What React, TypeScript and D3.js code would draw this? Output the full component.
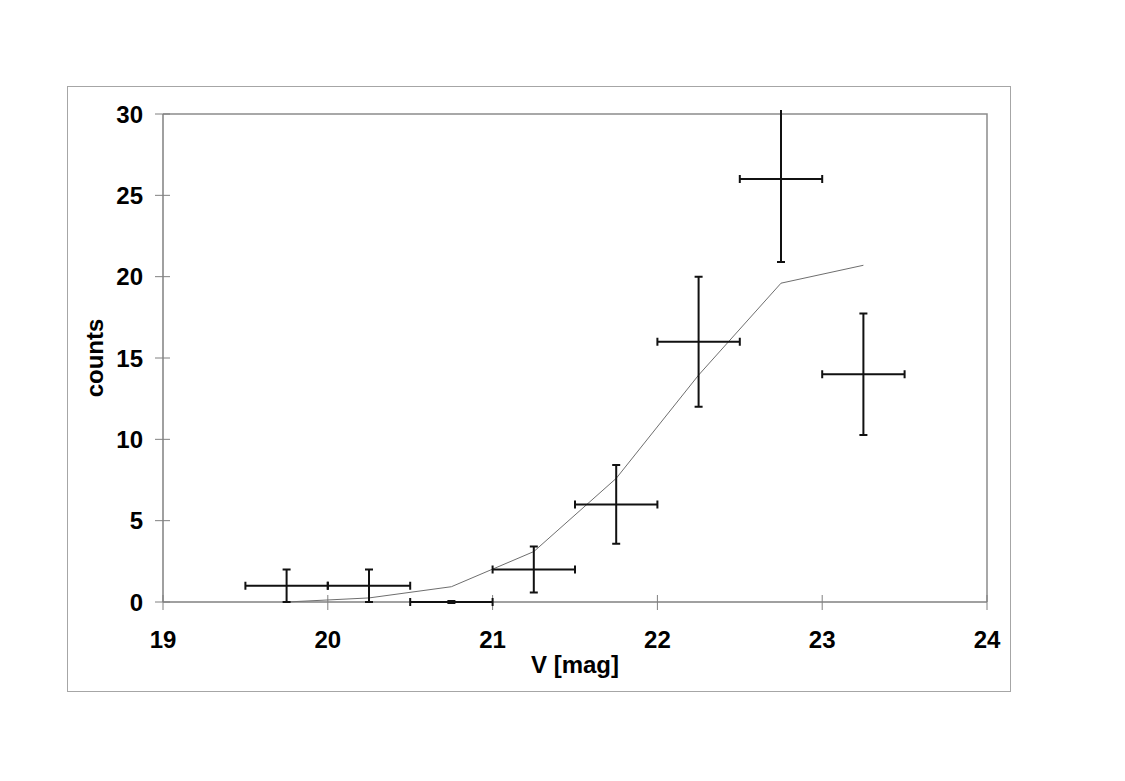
import { useRef, useEffect } from 'react'
import * as d3 from 'd3'

// binned counts with Poisson errors
const mags = [19.75, 20.25, 20.75, 21.25, 21.75, 22.25, 22.75, 23.25]
const counts = [1, 1, 0, 2, 6, 16, 26, 14]
const yErr = [1, 1, 0, 1.41, 2.42, 4.0, 5.1, 3.74]
const xErr = [0.25, 0.25, 0.25, 0.25, 0.25, 0.25, 0.25, 0.25]

// model curve
const modelMags = [19.75, 20.25, 20.75, 21.25, 21.75, 22.25, 22.75, 23.25]
const modelCounts = [0, 0.25, 0.94, 3.1, 7.6, 13.95, 19.6, 20.7]

const xTicks = [19, 20, 21, 22, 23, 24]
const yTicks = [0, 5, 10, 15, 20, 25, 30]

const FONT = '"Liberation Sans", Arial, Helvetica, sans-serif'

export default function App() {
  const svgRef = useRef<SVGSVGElement>(null)

  useEffect(() => {
    if (!svgRef.current) return
    const svg = d3.select(svgRef.current)
    svg.selectAll('*').remove()

    const W = 1125, H = 781
    const left = 163, right = 987, top = 114, bottom = 602

    const x = d3.scaleLinear().domain([19, 24]).range([left, right])
    const y = d3.scaleLinear().domain([0, 30]).range([bottom, top])

    svg.append('rect').attr('width', W).attr('height', H).attr('fill', '#fff')

    // clip: marks may overhang the plot frame by a few pixels
    svg.append('clipPath').attr('id', 'plotclip')
      .append('rect').attr('x', left - 10).attr('y', top - 4)
      .attr('width', right - left + 20).attr('height', bottom - top + 14)

    // outer chart border
    svg.append('rect')
      .attr('x', 67.5).attr('y', 86.5).attr('width', 943).attr('height', 605)
      .attr('fill', 'none').attr('stroke', '#a6a6a6').attr('stroke-width', 1)

    // plot frame (top & right)
    svg.append('path')
      .attr('d', `M${left},${top}H${right}V${bottom}`)
      .attr('fill', 'none').attr('stroke', '#8c8c8c').attr('stroke-width', 1.5)

    // axes lines
    svg.append('line')
      .attr('x1', left).attr('x2', right).attr('y1', bottom).attr('y2', bottom)
      .attr('stroke', '#808080').attr('stroke-width', 1.5)
    svg.append('line')
      .attr('x1', left).attr('x2', left).attr('y1', top).attr('y2', bottom)
      .attr('stroke', '#808080').attr('stroke-width', 1.5)

    const txt = (sel: any) => sel
      .attr('font-family', FONT).attr('font-weight', 'bold').attr('font-size', 24)
      .attr('fill', '#000')

    // y ticks (cross)
    svg.selectAll('.ytick').data(yTicks).join('line')
      .attr('x1', left - 8).attr('x2', left + 7)
      .attr('y1', d => y(d)).attr('y2', d => y(d))
      .attr('stroke', '#808080').attr('stroke-width', 1)
    svg.selectAll('.ylab').data(yTicks).join('text')
      .attr('x', 143).attr('y', d => y(d) + 8.7)
      .attr('text-anchor', 'end')
      .call(txt)
      .text(d => d)

    // x ticks (cross)
    svg.selectAll('.xtick').data(xTicks).join('line')
      .attr('x1', d => x(d)).attr('x2', d => x(d))
      .attr('y1', bottom - 7).attr('y2', bottom + 8)
      .attr('stroke', '#808080').attr('stroke-width', 1)
    svg.selectAll('.xlab').data(xTicks).join('text')
      .attr('x', d => x(d)).attr('y', 648)
      .attr('text-anchor', 'middle')
      .call(txt)
      .text(d => d)

    // axis titles
    svg.append('text')
      .attr('x', 575).attr('y', 673)
      .attr('text-anchor', 'middle')
      .call(txt)
      .text('V [mag]')
    svg.append('text')
      .attr('transform', `translate(103,358) rotate(-90)`)
      .attr('text-anchor', 'middle')
      .call(txt)
      .text('counts')

    const plot = svg.append('g').attr('clip-path', 'url(#plotclip)')

    // model line
    const line = d3.line<number>()
      .x((_, i) => x(modelMags[i]))
      .y(d => y(d))
    plot.append('path')
      .datum(modelCounts)
      .attr('d', line)
      .attr('fill', 'none').attr('stroke', '#6e6e6e').attr('stroke-width', 1)

    // error bars
    const pts = mags.map((m, i) => ({ m, c: counts[i], ey: yErr[i], ex: xErr[i] }))
    const cap = 4
    const g = plot.append('g').attr('stroke', '#111').attr('stroke-width', 2).attr('fill', 'none')
    pts.forEach(p => {
      const cx = x(p.m), cy = y(p.c)
      const x0 = x(p.m - p.ex), x1 = x(p.m + p.ex)
      // zero-length bars still show their two caps, a hair apart
      const y0 = p.ey > 0 ? y(p.c - p.ey) : cy + 1
      const y1 = p.ey > 0 ? y(p.c + p.ey) : cy - 1
      g.append('path').attr('d',
        `M${x0},${cy}H${x1}` +
        `M${x0},${cy - cap}V${cy + cap}M${x1},${cy - cap}V${cy + cap}` +
        `M${cx},${y0}V${y1}` +
        `M${cx - cap},${y0}H${cx + cap}M${cx - cap},${y1}H${cx + cap}`)
    })
  }, [])

  return (
    <svg ref={svgRef} width={1125} height={781}
      style={{ position: 'absolute', left: 0, top: 0, display: 'block' }} />
  )
}
